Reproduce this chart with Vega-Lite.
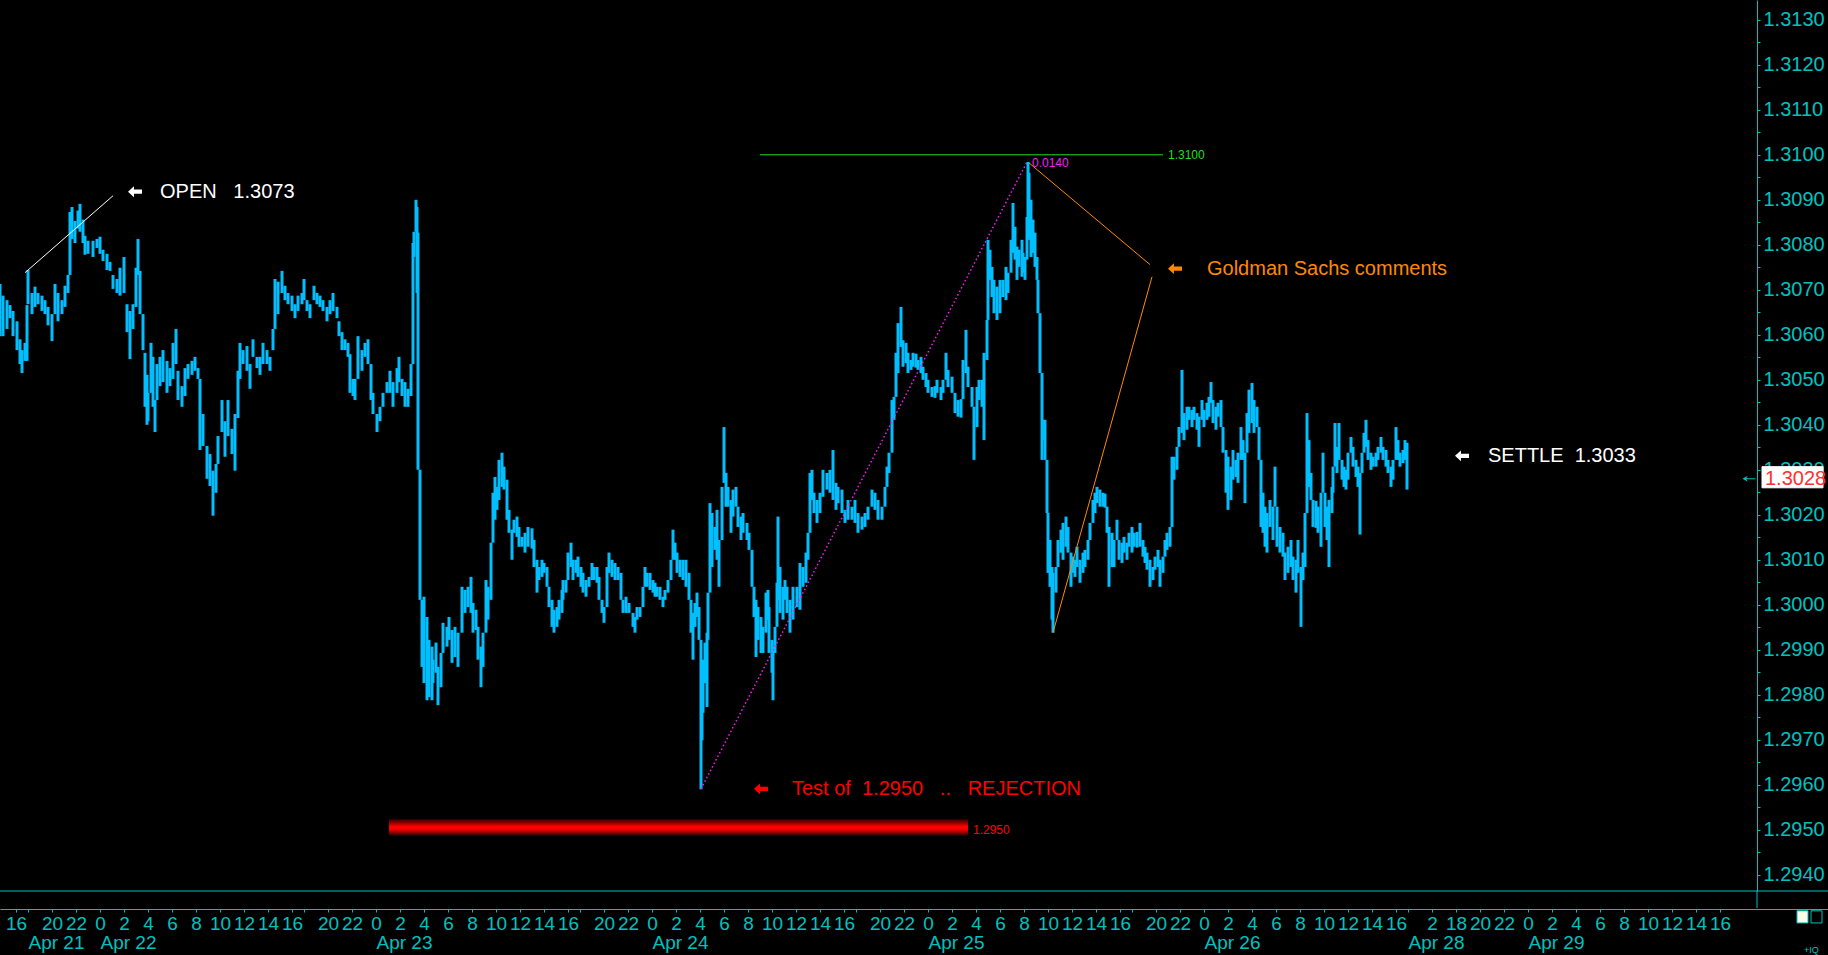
{
"$schema": "https://vega.github.io/schema/vega-lite/v6.json",
"width": 1828, "height": 891,
"autosize": {"type": "none"},
"padding": {"left": 0, "top": 0, "right": 0, "bottom": 64},
"background": "#000000",
"config": {
 "view": {"stroke": null},
 "axis": {"grid": false, "labelFont": "Liberation Sans", "labelColor": "#00c0c0", "domainColor": "#00c0c0", "tickColor": "#00c0c0", "labelOverlap": false, "labelFlush": false, "labelBound": false},
 "text": {"font": "Liberation Sans"}
},
"datasets": {
"bars": [
{"t":-140,"hi":1.30713,"lo":1.30597},{"t":-125,"hi":1.30687,"lo":1.30597},{"t":-105,"hi":1.30677,"lo":1.30613},{"t":-90,"hi":1.30666,"lo":1.30637},{"t":-75,"hi":1.30653,"lo":1.30597},{"t":-55,"hi":1.30630,"lo":1.30566},{"t":-40,"hi":1.30590,"lo":1.30535},{"t":-30,"hi":1.30566,"lo":1.30515},{"t":-15,"hi":1.30582,"lo":1.30542},{"t":-5,"hi":1.30666,"lo":1.30542},
{"t":0,"hi":1.30744,"lo":1.30668},{"t":20,"hi":1.30693,"lo":1.30646},{"t":35,"hi":1.30707,"lo":1.30662},{"t":50,"hi":1.30693,"lo":1.30668},{"t":70,"hi":1.30687,"lo":1.30653},{"t":85,"hi":1.30677,"lo":1.30646},{"t":100,"hi":1.30662,"lo":1.30621},{"t":120,"hi":1.30646,"lo":1.30586},{"t":135,"hi":1.30713,"lo":1.30646},{"t":150,"hi":1.30693,"lo":1.30630},
{"t":170,"hi":1.30677,"lo":1.30646},{"t":185,"hi":1.30709,"lo":1.30662},{"t":200,"hi":1.30733,"lo":1.30693},{"t":210,"hi":1.30873,"lo":1.30733},{"t":220,"hi":1.30884,"lo":1.30813},{"t":235,"hi":1.30853,"lo":1.30804},{"t":250,"hi":1.30876,"lo":1.30836},{"t":260,"hi":1.30891,"lo":1.30829},{"t":275,"hi":1.30856,"lo":1.30804},{"t":285,"hi":1.30820,"lo":1.30778},
{"t":300,"hi":1.30809,"lo":1.30780},{"t":325,"hi":1.30809,"lo":1.30773},{"t":345,"hi":1.30813,"lo":1.30793},{"t":360,"hi":1.30818,"lo":1.30780},{"t":375,"hi":1.30789,"lo":1.30764},{"t":395,"hi":1.30780,"lo":1.30744},{"t":410,"hi":1.30762,"lo":1.30742},{"t":425,"hi":1.30733,"lo":1.30702},{"t":445,"hi":1.30724,"lo":1.30693},{"t":460,"hi":1.30749,"lo":1.30687},
{"t":480,"hi":1.30773,"lo":1.30693},{"t":495,"hi":1.30668,"lo":1.30606},{"t":510,"hi":1.30653,"lo":1.30546},{"t":525,"hi":1.30668,"lo":1.30613},{"t":540,"hi":1.30749,"lo":1.30662},{"t":550,"hi":1.30813,"lo":1.30733},{"t":560,"hi":1.30742,"lo":1.30646},{"t":575,"hi":1.30646,"lo":1.30566},{"t":585,"hi":1.30560,"lo":1.30440},{"t":595,"hi":1.30511,"lo":1.30400},
{"t":600,"hi":1.30471,"lo":1.30408},{"t":615,"hi":1.30582,"lo":1.30471},{"t":625,"hi":1.30551,"lo":1.30440},{"t":635,"hi":1.30455,"lo":1.30384},{"t":645,"hi":1.30535,"lo":1.30455},{"t":660,"hi":1.30551,"lo":1.30486},{"t":675,"hi":1.30566,"lo":1.30495},{"t":695,"hi":1.30542,"lo":1.30471},{"t":710,"hi":1.30526,"lo":1.30486},{"t":725,"hi":1.30582,"lo":1.30502},
{"t":740,"hi":1.30613,"lo":1.30535},{"t":750,"hi":1.30520,"lo":1.30455},{"t":770,"hi":1.30486,"lo":1.30440},{"t":785,"hi":1.30526,"lo":1.30464},{"t":800,"hi":1.30535,"lo":1.30502},{"t":820,"hi":1.30542,"lo":1.30511},{"t":835,"hi":1.30551,"lo":1.30520},{"t":850,"hi":1.30526,"lo":1.30502},{"t":860,"hi":1.30502,"lo":1.30344},{"t":875,"hi":1.30424,"lo":1.30353},
{"t":895,"hi":1.30353,"lo":1.30280},{"t":910,"hi":1.30335,"lo":1.30264},{"t":925,"hi":1.30298,"lo":1.30198},{"t":940,"hi":1.30313,"lo":1.30249},{"t":950,"hi":1.30375,"lo":1.30313},{"t":970,"hi":1.30455,"lo":1.30384},{"t":985,"hi":1.30408,"lo":1.30329},{"t":1000,"hi":1.30455,"lo":1.30375},{"t":1020,"hi":1.30391,"lo":1.30335},{"t":1035,"hi":1.30424,"lo":1.30298},
{"t":1050,"hi":1.30520,"lo":1.30415},{"t":1060,"hi":1.30582,"lo":1.30502},{"t":1075,"hi":1.30566,"lo":1.30535},{"t":1095,"hi":1.30575,"lo":1.30520},{"t":1110,"hi":1.30535,"lo":1.30480},{"t":1125,"hi":1.30590,"lo":1.30551},{"t":1145,"hi":1.30551,"lo":1.30526},{"t":1160,"hi":1.30551,"lo":1.30511},{"t":1175,"hi":1.30582,"lo":1.30535},{"t":1195,"hi":1.30566,"lo":1.30535},
{"t":1210,"hi":1.30551,"lo":1.30520},{"t":1225,"hi":1.30613,"lo":1.30566},{"t":1235,"hi":1.30724,"lo":1.30613},{"t":1250,"hi":1.30718,"lo":1.30646},{"t":1270,"hi":1.30742,"lo":1.30693},{"t":1285,"hi":1.30709,"lo":1.30677},{"t":1300,"hi":1.30693,"lo":1.30668},{"t":1320,"hi":1.30687,"lo":1.30653},{"t":1335,"hi":1.30668,"lo":1.30637},{"t":1350,"hi":1.30687,"lo":1.30653},
{"t":1370,"hi":1.30693,"lo":1.30668},{"t":1380,"hi":1.30724,"lo":1.30677},{"t":1395,"hi":1.30677,"lo":1.30653},{"t":1410,"hi":1.30668,"lo":1.30637},{"t":1430,"hi":1.30709,"lo":1.30677},{"t":1445,"hi":1.30693,"lo":1.30668},{"t":1460,"hi":1.30687,"lo":1.30662},{"t":1475,"hi":1.30677,"lo":1.30653},{"t":1495,"hi":1.30662,"lo":1.30630},{"t":1510,"hi":1.30677,"lo":1.30646},
{"t":1525,"hi":1.30693,"lo":1.30653},{"t":1545,"hi":1.30662,"lo":1.30637},{"t":1555,"hi":1.30630,"lo":1.30597},{"t":1570,"hi":1.30606,"lo":1.30566},{"t":1585,"hi":1.30590,"lo":1.30566},{"t":1600,"hi":1.30582,"lo":1.30551},{"t":1610,"hi":1.30557,"lo":1.30471},{"t":1625,"hi":1.30502,"lo":1.30464},{"t":1635,"hi":1.30502,"lo":1.30455},{"t":1650,"hi":1.30597,"lo":1.30502},
{"t":1670,"hi":1.30566,"lo":1.30520},{"t":1685,"hi":1.30582,"lo":1.30551},{"t":1700,"hi":1.30590,"lo":1.30535},{"t":1715,"hi":1.30535,"lo":1.30455},{"t":1725,"hi":1.30471,"lo":1.30424},{"t":1745,"hi":1.30424,"lo":1.30384},{"t":1760,"hi":1.30440,"lo":1.30408},{"t":1775,"hi":1.30471,"lo":1.30440},{"t":1795,"hi":1.30495,"lo":1.30471},{"t":1810,"hi":1.30520,"lo":1.30471},
{"t":1825,"hi":1.30495,"lo":1.30440},{"t":1845,"hi":1.30526,"lo":1.30471},{"t":1855,"hi":1.30551,"lo":1.30495},{"t":1870,"hi":1.30502,"lo":1.30464},{"t":1885,"hi":1.30495,"lo":1.30440},{"t":1900,"hi":1.30480,"lo":1.30440},{"t":1915,"hi":1.30535,"lo":1.30464},{"t":1925,"hi":1.30804,"lo":1.30535},{"t":1930,"hi":1.30829,"lo":1.30773},{"t":1940,"hi":1.30900,"lo":1.30829},
{"t":1945,"hi":1.30884,"lo":1.30693},{"t":1950,"hi":1.30827,"lo":1.30300},{"t":1960,"hi":1.30300,"lo":1.30011},{"t":1970,"hi":1.30011,"lo":1.29862},{"t":1980,"hi":1.30018,"lo":1.29826},{"t":1995,"hi":1.29973,"lo":1.29788},{"t":2005,"hi":1.29922,"lo":1.29795},{"t":2020,"hi":1.29907,"lo":1.29788},{"t":2025,"hi":1.29878,"lo":1.29826},{"t":2040,"hi":1.29916,"lo":1.29849},
{"t":2050,"hi":1.29862,"lo":1.29777},{"t":2065,"hi":1.29893,"lo":1.29817},{"t":2075,"hi":1.29960,"lo":1.29893},{"t":2095,"hi":1.29951,"lo":1.29907},{"t":2105,"hi":1.29973,"lo":1.29922},{"t":2120,"hi":1.29944,"lo":1.29871},{"t":2135,"hi":1.29951,"lo":1.29884},{"t":2150,"hi":1.29938,"lo":1.29862},{"t":2170,"hi":1.30040,"lo":1.29938},{"t":2185,"hi":1.30033,"lo":1.29982},
{"t":2200,"hi":1.30040,"lo":1.29995},{"t":2215,"hi":1.30062,"lo":1.29982},{"t":2225,"hi":1.30004,"lo":1.29938},{"t":2240,"hi":1.29989,"lo":1.29944},{"t":2250,"hi":1.29951,"lo":1.29878},{"t":2265,"hi":1.29907,"lo":1.29817},{"t":2275,"hi":1.29938,"lo":1.29862},{"t":2290,"hi":1.30055,"lo":1.29938},{"t":2300,"hi":1.30040,"lo":1.29967},{"t":2315,"hi":1.30138,"lo":1.30011},
{"t":2325,"hi":1.30249,"lo":1.30138},{"t":2335,"hi":1.30284,"lo":1.30189},{"t":2345,"hi":1.30262,"lo":1.30211},{"t":2355,"hi":1.30322,"lo":1.30233},{"t":2370,"hi":1.30338,"lo":1.30262},{"t":2380,"hi":1.30307,"lo":1.30256},{"t":2395,"hi":1.30278,"lo":1.30189},{"t":2405,"hi":1.30211,"lo":1.30160},{"t":2420,"hi":1.30167,"lo":1.30100},{"t":2430,"hi":1.30189,"lo":1.30160},
{"t":2445,"hi":1.30196,"lo":1.30151},{"t":2455,"hi":1.30173,"lo":1.30129},{"t":2470,"hi":1.30151,"lo":1.30129},{"t":2485,"hi":1.30160,"lo":1.30116},{"t":2500,"hi":1.30173,"lo":1.30129},{"t":2520,"hi":1.30170,"lo":1.30125},{"t":2530,"hi":1.30144,"lo":1.30084},{"t":2545,"hi":1.30100,"lo":1.30027},{"t":2555,"hi":1.30084,"lo":1.30055},{"t":2570,"hi":1.30100,"lo":1.30062},
{"t":2580,"hi":1.30093,"lo":1.30071},{"t":2595,"hi":1.30084,"lo":1.30040},{"t":2605,"hi":1.30040,"lo":1.29995},{"t":2620,"hi":1.30011,"lo":1.29951},{"t":2630,"hi":1.29989,"lo":1.29938},{"t":2645,"hi":1.29995,"lo":1.29951},{"t":2655,"hi":1.30011,"lo":1.29967},{"t":2670,"hi":1.30033,"lo":1.29982},{"t":2675,"hi":1.30055,"lo":1.30011},{"t":2690,"hi":1.30055,"lo":1.30027},
{"t":2700,"hi":1.30116,"lo":1.30055},{"t":2715,"hi":1.30138,"lo":1.30084},{"t":2725,"hi":1.30100,"lo":1.30055},{"t":2740,"hi":1.30100,"lo":1.30071},{"t":2750,"hi":1.30107,"lo":1.30062},{"t":2765,"hi":1.30084,"lo":1.30040},{"t":2775,"hi":1.30071,"lo":1.30027},{"t":2790,"hi":1.30055,"lo":1.30018},{"t":2805,"hi":1.30062,"lo":1.30040},{"t":2820,"hi":1.30093,"lo":1.30055},
{"t":2830,"hi":1.30084,"lo":1.30055},{"t":2845,"hi":1.30084,"lo":1.30049},{"t":2855,"hi":1.30062,"lo":1.30011},{"t":2870,"hi":1.30011,"lo":1.29982},{"t":2880,"hi":1.29995,"lo":1.29960},{"t":2895,"hi":1.30084,"lo":1.29995},{"t":2905,"hi":1.30116,"lo":1.30071},{"t":2920,"hi":1.30100,"lo":1.30062},{"t":2935,"hi":1.30093,"lo":1.30055},{"t":2950,"hi":1.30084,"lo":1.30055},
{"t":2965,"hi":1.30071,"lo":1.30011},{"t":2975,"hi":1.30011,"lo":1.29982},{"t":2990,"hi":1.30018,"lo":1.29982},{"t":3005,"hi":1.30004,"lo":1.29982},{"t":3025,"hi":1.29982,"lo":1.29951},{"t":3035,"hi":1.29973,"lo":1.29938},{"t":3045,"hi":1.29995,"lo":1.29967},{"t":3060,"hi":1.29995,"lo":1.29973},{"t":3075,"hi":1.30040,"lo":1.29995},{"t":3085,"hi":1.30084,"lo":1.30040},
{"t":3095,"hi":1.30071,"lo":1.30040},{"t":3110,"hi":1.30071,"lo":1.30033},{"t":3125,"hi":1.30055,"lo":1.30027},{"t":3135,"hi":1.30049,"lo":1.30018},{"t":3145,"hi":1.30040,"lo":1.30018},{"t":3160,"hi":1.30040,"lo":1.30011},{"t":3175,"hi":1.30018,"lo":1.29995},{"t":3185,"hi":1.30033,"lo":1.30011},{"t":3200,"hi":1.30055,"lo":1.30027},{"t":3215,"hi":1.30100,"lo":1.30055},
{"t":3225,"hi":1.30167,"lo":1.30100},{"t":3235,"hi":1.30138,"lo":1.30100},{"t":3245,"hi":1.30116,"lo":1.30071},{"t":3260,"hi":1.30100,"lo":1.30062},{"t":3275,"hi":1.30100,"lo":1.30055},{"t":3290,"hi":1.30100,"lo":1.30040},{"t":3305,"hi":1.30071,"lo":1.30011},{"t":3315,"hi":1.30011,"lo":1.29938},{"t":3325,"hi":1.29982,"lo":1.29878},{"t":3335,"hi":1.30004,"lo":1.29951},
{"t":3345,"hi":1.30027,"lo":1.29973},{"t":3355,"hi":1.29995,"lo":1.29922},{"t":3365,"hi":1.29922,"lo":1.29590},{"t":3370,"hi":1.29788,"lo":1.29699},{"t":3375,"hi":1.29878,"lo":1.29760},{"t":3385,"hi":1.29916,"lo":1.29826},{"t":3395,"hi":1.29938,"lo":1.29773},{"t":3400,"hi":1.30027,"lo":1.29922},{"t":3410,"hi":1.30226,"lo":1.30027},{"t":3420,"hi":1.30204,"lo":1.30084},
{"t":3435,"hi":1.30173,"lo":1.30122},{"t":3445,"hi":1.30211,"lo":1.30100},{"t":3455,"hi":1.30144,"lo":1.30040},{"t":3470,"hi":1.30262,"lo":1.30144},{"t":3480,"hi":1.30395,"lo":1.30271},{"t":3490,"hi":1.30293,"lo":1.30218},{"t":3500,"hi":1.30262,"lo":1.30218},{"t":3515,"hi":1.30233,"lo":1.30160},{"t":3525,"hi":1.30256,"lo":1.30196},{"t":3540,"hi":1.30262,"lo":1.30218},
{"t":3550,"hi":1.30218,"lo":1.30173},{"t":3565,"hi":1.30196,"lo":1.30144},{"t":3575,"hi":1.30204,"lo":1.30160},{"t":3595,"hi":1.30182,"lo":1.30144},{"t":3605,"hi":1.30160,"lo":1.30122},{"t":3620,"hi":1.30122,"lo":1.30040},{"t":3630,"hi":1.30040,"lo":1.29973},{"t":3640,"hi":1.30011,"lo":1.29884},{"t":3650,"hi":1.29995,"lo":1.29922},{"t":3665,"hi":1.29973,"lo":1.29893},
{"t":3675,"hi":1.29951,"lo":1.29893},{"t":3690,"hi":1.30027,"lo":1.29938},{"t":3700,"hi":1.30033,"lo":1.29967},{"t":3705,"hi":1.29995,"lo":1.29893},{"t":3720,"hi":1.29922,"lo":1.29849},{"t":3725,"hi":1.29907,"lo":1.29788},{"t":3735,"hi":1.29951,"lo":1.29893},{"t":3745,"hi":1.30049,"lo":1.29951},{"t":3750,"hi":1.30196,"lo":1.30011},{"t":3760,"hi":1.30084,"lo":1.29982},
{"t":3775,"hi":1.30040,"lo":1.29967},{"t":3785,"hi":1.30055,"lo":1.30011},{"t":3795,"hi":1.30040,"lo":1.29982},{"t":3810,"hi":1.30011,"lo":1.29938},{"t":3825,"hi":1.30040,"lo":1.29967},{"t":3845,"hi":1.30040,"lo":1.29995},{"t":3860,"hi":1.30093,"lo":1.29989},{"t":3875,"hi":1.30084,"lo":1.30040},{"t":3890,"hi":1.30116,"lo":1.30049},{"t":3900,"hi":1.30160,"lo":1.30100},
{"t":3910,"hi":1.30293,"lo":1.30160},{"t":3920,"hi":1.30300,"lo":1.30233},{"t":3930,"hi":1.30249,"lo":1.30204},{"t":3945,"hi":1.30233,"lo":1.30182},{"t":3960,"hi":1.30249,"lo":1.30204},{"t":3975,"hi":1.30300,"lo":1.30240},{"t":3995,"hi":1.30293,"lo":1.30256},{"t":4010,"hi":1.30300,"lo":1.30249},{"t":4025,"hi":1.30344,"lo":1.30233},{"t":4040,"hi":1.30271,"lo":1.30211},
{"t":4050,"hi":1.30262,"lo":1.30226},{"t":4070,"hi":1.30256,"lo":1.30204},{"t":4085,"hi":1.30211,"lo":1.30182},{"t":4100,"hi":1.30233,"lo":1.30189},{"t":4120,"hi":1.30218,"lo":1.30189},{"t":4135,"hi":1.30233,"lo":1.30182},{"t":4150,"hi":1.30204,"lo":1.30160},{"t":4170,"hi":1.30196,"lo":1.30167},{"t":4185,"hi":1.30204,"lo":1.30173},{"t":4200,"hi":1.30218,"lo":1.30189},
{"t":4220,"hi":1.30256,"lo":1.30218},{"t":4235,"hi":1.30249,"lo":1.30211},{"t":4250,"hi":1.30233,"lo":1.30189},{"t":4270,"hi":1.30218,"lo":1.30189},{"t":4285,"hi":1.30262,"lo":1.30218},{"t":4295,"hi":1.30307,"lo":1.30262},{"t":4305,"hi":1.30338,"lo":1.30293},{"t":4320,"hi":1.30455,"lo":1.30338},{"t":4330,"hi":1.30462,"lo":1.30411},{"t":4340,"hi":1.30560,"lo":1.30462},
{"t":4350,"hi":1.30626,"lo":1.30515},{"t":4365,"hi":1.30662,"lo":1.30573},{"t":4375,"hi":1.30588,"lo":1.30529},{"t":4390,"hi":1.30582,"lo":1.30537},{"t":4400,"hi":1.30560,"lo":1.30515},{"t":4415,"hi":1.30544,"lo":1.30522},{"t":4425,"hi":1.30560,"lo":1.30529},{"t":4440,"hi":1.30558,"lo":1.30527},{"t":4450,"hi":1.30544,"lo":1.30522},{"t":4465,"hi":1.30551,"lo":1.30515},
{"t":4475,"hi":1.30529,"lo":1.30500},{"t":4490,"hi":1.30515,"lo":1.30484},{"t":4500,"hi":1.30500,"lo":1.30471},{"t":4520,"hi":1.30484,"lo":1.30462},{"t":4535,"hi":1.30486,"lo":1.30460},{"t":4545,"hi":1.30500,"lo":1.30471},{"t":4565,"hi":1.30484,"lo":1.30455},{"t":4575,"hi":1.30500,"lo":1.30471},{"t":4590,"hi":1.30560,"lo":1.30500},{"t":4600,"hi":1.30522,"lo":1.30484},
{"t":4620,"hi":1.30507,"lo":1.30471},{"t":4635,"hi":1.30471,"lo":1.30426},{"t":4650,"hi":1.30455,"lo":1.30418},{"t":4665,"hi":1.30457,"lo":1.30416},{"t":4675,"hi":1.30544,"lo":1.30457},{"t":4690,"hi":1.30611,"lo":1.30515},{"t":4700,"hi":1.30529,"lo":1.30484},{"t":4720,"hi":1.30484,"lo":1.30440},{"t":4730,"hi":1.30440,"lo":1.30322},{"t":4745,"hi":1.30484,"lo":1.30395},
{"t":4755,"hi":1.30500,"lo":1.30455},{"t":4770,"hi":1.30500,"lo":1.30440},{"t":4780,"hi":1.30560,"lo":1.30366},{"t":4795,"hi":1.30633,"lo":1.30544},{"t":4800,"hi":1.30811,"lo":1.30633},{"t":4810,"hi":1.30789,"lo":1.30722},{"t":4820,"hi":1.30751,"lo":1.30684},{"t":4830,"hi":1.30722,"lo":1.30648},{"t":4845,"hi":1.30707,"lo":1.30633},{"t":4860,"hi":1.30722,"lo":1.30648},
{"t":4875,"hi":1.30722,"lo":1.30684},{"t":4890,"hi":1.30751,"lo":1.30677},{"t":4900,"hi":1.30738,"lo":1.30693},{"t":4915,"hi":1.30811,"lo":1.30738},{"t":4925,"hi":1.30893,"lo":1.30782},{"t":4935,"hi":1.30840,"lo":1.30767},{"t":4945,"hi":1.30796,"lo":1.30722},{"t":4955,"hi":1.30789,"lo":1.30751},{"t":4970,"hi":1.30811,"lo":1.30729},{"t":4975,"hi":1.30782,"lo":1.30738},
{"t":4985,"hi":1.30773,"lo":1.30722},{"t":4995,"hi":1.30862,"lo":1.30767},{"t":5000,"hi":1.30984,"lo":1.30862},{"t":5005,"hi":1.30960,"lo":1.30811},{"t":5015,"hi":1.30900,"lo":1.30773},{"t":5025,"hi":1.30856,"lo":1.30782},{"t":5035,"hi":1.30827,"lo":1.30751},{"t":5045,"hi":1.30773,"lo":1.30722},{"t":5050,"hi":1.30722,"lo":1.30648},{"t":5060,"hi":1.30648,"lo":1.30515},
{"t":5070,"hi":1.30515,"lo":1.30322},{"t":5075,"hi":1.30411,"lo":1.30366},{"t":5085,"hi":1.30411,"lo":1.30322},{"t":5095,"hi":1.30322,"lo":1.30204},{"t":5100,"hi":1.30204,"lo":1.30071},{"t":5110,"hi":1.30144,"lo":1.30040},{"t":5120,"hi":1.30084,"lo":1.29967},{"t":5125,"hi":1.30071,"lo":1.29938},{"t":5140,"hi":1.30084,"lo":1.30027},{"t":5150,"hi":1.30144,"lo":1.30084},
{"t":5165,"hi":1.30167,"lo":1.30116},{"t":5175,"hi":1.30182,"lo":1.30100},{"t":5190,"hi":1.30196,"lo":1.30129},{"t":5200,"hi":1.30173,"lo":1.30116},{"t":5215,"hi":1.30116,"lo":1.30040},{"t":5225,"hi":1.30107,"lo":1.30071},{"t":5235,"hi":1.30100,"lo":1.30062},{"t":5245,"hi":1.30129,"lo":1.30084},{"t":5260,"hi":1.30100,"lo":1.30049},{"t":5275,"hi":1.30116,"lo":1.30071},
{"t":5285,"hi":1.30122,"lo":1.30084},{"t":5300,"hi":1.30144,"lo":1.30100},{"t":5310,"hi":1.30182,"lo":1.30144},{"t":5325,"hi":1.30233,"lo":1.30182},{"t":5335,"hi":1.30249,"lo":1.30204},{"t":5345,"hi":1.30262,"lo":1.30226},{"t":5360,"hi":1.30256,"lo":1.30218},{"t":5375,"hi":1.30249,"lo":1.30218},{"t":5385,"hi":1.30247,"lo":1.30216},{"t":5395,"hi":1.30218,"lo":1.30160},
{"t":5405,"hi":1.30173,"lo":1.30040},{"t":5420,"hi":1.30160,"lo":1.30084},{"t":5430,"hi":1.30144,"lo":1.30084},{"t":5445,"hi":1.30189,"lo":1.30144},{"t":5455,"hi":1.30144,"lo":1.30100},{"t":5470,"hi":1.30138,"lo":1.30093},{"t":5480,"hi":1.30151,"lo":1.30116},{"t":5495,"hi":1.30138,"lo":1.30100},{"t":5505,"hi":1.30160,"lo":1.30129},{"t":5520,"hi":1.30173,"lo":1.30116},
{"t":5530,"hi":1.30160,"lo":1.30129},{"t":5545,"hi":1.30162,"lo":1.30127},{"t":5560,"hi":1.30182,"lo":1.30129},{"t":5575,"hi":1.30144,"lo":1.30107},{"t":5585,"hi":1.30129,"lo":1.30093},{"t":5595,"hi":1.30116,"lo":1.30078},{"t":5610,"hi":1.30100,"lo":1.30040},{"t":5625,"hi":1.30084,"lo":1.30055},{"t":5635,"hi":1.30107,"lo":1.30078},{"t":5650,"hi":1.30122,"lo":1.30084},
{"t":5660,"hi":1.30100,"lo":1.30040},{"t":5675,"hi":1.30107,"lo":1.30071},{"t":5685,"hi":1.30144,"lo":1.30107},{"t":5695,"hi":1.30160,"lo":1.30122},{"t":5710,"hi":1.30173,"lo":1.30129},{"t":5720,"hi":1.30329,"lo":1.30173},{"t":5730,"hi":1.30329,"lo":1.30278},{"t":5745,"hi":1.30351,"lo":1.30300},{"t":5755,"hi":1.30395,"lo":1.30351},{"t":5770,"hi":1.30522,"lo":1.30382},
{"t":5780,"hi":1.30426,"lo":1.30366},{"t":5795,"hi":1.30440,"lo":1.30389},{"t":5805,"hi":1.30440,"lo":1.30411},{"t":5820,"hi":1.30433,"lo":1.30395},{"t":5830,"hi":1.30440,"lo":1.30411},{"t":5845,"hi":1.30426,"lo":1.30389},{"t":5855,"hi":1.30418,"lo":1.30351},{"t":5870,"hi":1.30455,"lo":1.30411},{"t":5880,"hi":1.30433,"lo":1.30395},{"t":5895,"hi":1.30449,"lo":1.30411},
{"t":5905,"hi":1.30462,"lo":1.30418},{"t":5915,"hi":1.30495,"lo":1.30449},{"t":5925,"hi":1.30455,"lo":1.30404},{"t":5940,"hi":1.30440,"lo":1.30389},{"t":5950,"hi":1.30449,"lo":1.30418},{"t":5965,"hi":1.30455,"lo":1.30395},{"t":5975,"hi":1.30395,"lo":1.30338},{"t":5990,"hi":1.30344,"lo":1.30249},{"t":6000,"hi":1.30329,"lo":1.30211},{"t":6015,"hi":1.30307,"lo":1.30233},
{"t":6025,"hi":1.30344,"lo":1.30278},{"t":6040,"hi":1.30322,"lo":1.30284},{"t":6050,"hi":1.30338,"lo":1.30271},{"t":6065,"hi":1.30395,"lo":1.30322},{"t":6075,"hi":1.30366,"lo":1.30322},{"t":6085,"hi":1.30338,"lo":1.30226},{"t":6095,"hi":1.30426,"lo":1.30338},{"t":6105,"hi":1.30478,"lo":1.30382},{"t":6120,"hi":1.30493,"lo":1.30404},{"t":6130,"hi":1.30455,"lo":1.30382},
{"t":6145,"hi":1.30440,"lo":1.30395},{"t":6155,"hi":1.30395,"lo":1.30322},{"t":6165,"hi":1.30322,"lo":1.30173},{"t":6175,"hi":1.30249,"lo":1.30160},{"t":6185,"hi":1.30218,"lo":1.30129},{"t":6195,"hi":1.30204,"lo":1.30116},{"t":6210,"hi":1.30233,"lo":1.30173},{"t":6225,"hi":1.30218,"lo":1.30144},{"t":6235,"hi":1.30307,"lo":1.30218},{"t":6245,"hi":1.30218,"lo":1.30129},
{"t":6260,"hi":1.30173,"lo":1.30116},{"t":6275,"hi":1.30160,"lo":1.30107},{"t":6285,"hi":1.30116,"lo":1.30055},{"t":6300,"hi":1.30129,"lo":1.30071},{"t":6315,"hi":1.30144,"lo":1.30084},{"t":6325,"hi":1.30107,"lo":1.30055},{"t":6340,"hi":1.30100,"lo":1.30027},{"t":6350,"hi":1.30144,"lo":1.30071},{"t":6365,"hi":1.30084,"lo":1.29951},{"t":6375,"hi":1.30116,"lo":1.30055},
{"t":6385,"hi":1.30204,"lo":1.30084},{"t":6395,"hi":1.30426,"lo":1.30204},{"t":6405,"hi":1.30366,"lo":1.30262},{"t":6415,"hi":1.30293,"lo":1.30233},{"t":6425,"hi":1.30233,"lo":1.30173},{"t":6440,"hi":1.30231,"lo":1.30171},{"t":6450,"hi":1.30218,"lo":1.30160},{"t":6465,"hi":1.30249,"lo":1.30129},{"t":6475,"hi":1.30338,"lo":1.30249},{"t":6485,"hi":1.30249,"lo":1.30173},
{"t":6495,"hi":1.30218,"lo":1.30144},{"t":6505,"hi":1.30233,"lo":1.30084},{"t":6520,"hi":1.30262,"lo":1.30204},{"t":6525,"hi":1.30307,"lo":1.30249},{"t":6535,"hi":1.30404,"lo":1.30307},{"t":6545,"hi":1.30351,"lo":1.30293},{"t":6555,"hi":1.30404,"lo":1.30322},{"t":6570,"hi":1.30322,"lo":1.30278},{"t":6580,"hi":1.30307,"lo":1.30262},{"t":6590,"hi":1.30300,"lo":1.30256},
{"t":6600,"hi":1.30338,"lo":1.30278},{"t":6615,"hi":1.30373,"lo":1.30338},{"t":6625,"hi":1.30351,"lo":1.30307},{"t":6640,"hi":1.30322,"lo":1.30284},{"t":6650,"hi":1.30307,"lo":1.30262},{"t":6660,"hi":1.30293,"lo":1.30156},{"t":6670,"hi":1.30338,"lo":1.30293},{"t":6680,"hi":1.30382,"lo":1.30338},{"t":6690,"hi":1.30411,"lo":1.30351},{"t":6700,"hi":1.30366,"lo":1.30322},
{"t":6715,"hi":1.30338,"lo":1.30300},{"t":6725,"hi":1.30329,"lo":1.30307},{"t":6740,"hi":1.30338,"lo":1.30307},{"t":6750,"hi":1.30351,"lo":1.30322},{"t":6765,"hi":1.30373,"lo":1.30338},{"t":6775,"hi":1.30351,"lo":1.30322},{"t":6790,"hi":1.30344,"lo":1.30307},{"t":6800,"hi":1.30322,"lo":1.30293},{"t":6815,"hi":1.30307,"lo":1.30262},{"t":6825,"hi":1.30322,"lo":1.30278},
{"t":6840,"hi":1.30395,"lo":1.30322},{"t":6850,"hi":1.30366,"lo":1.30322},{"t":6860,"hi":1.30338,"lo":1.30307},{"t":6875,"hi":1.30344,"lo":1.30315},{"t":6885,"hi":1.30366,"lo":1.30322},{"t":6895,"hi":1.30360,"lo":1.30256}
],
"redbar": [{"t1":1805,"t2":4700,"p1":1.29524,"p2":1.29487}],
"lines": [
{"t1":-15,"p1":1.30738,"t2":425,"p2":1.30909,"c":"#ffffff"},
{"t1":3660,"p1":1.3100,"t2":5675,"p2":1.3100,"c":"#22dd22"},
{"t1":5005,"p1":1.30982,"t2":5610,"p2":1.30756,"c":"#ff8800"},
{"t1":5620,"p1":1.30729,"t2":5125,"p2":1.29938,"c":"#ff8800"}
],
"dotted": [{"t1":3365,"p1":1.29591,"t2":4995,"p2":1.30984}],
"boxes": [
{"t1":8670,"t2":8975,"p1":1.30307,"p2":1.30260,"f":"#ffffff","s":"#ffffff"},
{"t1":8845,"t2":8900,"p1":1.29320,"p2":1.29293,"f":"#ffffe8","s":"#00c0c0"},
{"t1":8915,"t2":8970,"p1":1.29320,"p2":1.29293,"f":"#000000","s":"#00c0c0"}
],
"notes": [
{"t":660,"p":1.30918,"txt":"OPEN\u00a0\u00a0\u00a01.3073","c":"#ffffff","s":20},
{"t":7300,"p":1.30331,"txt":"SETTLE\u00a0\u00a01.3033","c":"#ffffff","s":20},
{"t":5895,"p":1.30747,"txt":"Goldman Sachs comments","c":"#ff8800","s":20},
{"t":3820,"p":1.29591,"txt":"Test of\u00a0\u00a01.2950\u00a0\u00a0\u00a0..\u00a0\u00a0\u00a0REJECTION","c":"#ff0000","s":20},
{"t":5700,"p":1.3100,"txt":"1.3100","c":"#22dd22","s":12},
{"t":5020,"p":1.30982,"txt":"0.0140","c":"#f020f0","s":12},
{"t":4725,"p":1.2950,"txt":"1.2950","c":"#ff0000","s":12},
{"t":8685,"p":1.3028,"txt":"1.3028","c":"#ff3030","s":20},
{"t":8880,"p":1.29233,"txt":"+IQ","c":"#00c0c0","s":9}
],
"arrows": [
{"t":535,"p":1.30918,"c":"#ffffff"},
{"t":7170,"p":1.30331,"c":"#ffffff"},
{"t":5735,"p":1.30747,"c":"#ff8800"},
{"t":3665,"p":1.29591,"c":"#ff0000"}
],
"marker": [{"t":8605,"p":1.3028}]
},
"layer": [
{"data": {"name": "bars"},
 "mark": {"type": "rule", "color": "#00bfff", "strokeWidth": 3},
 "encoding": {
  "x": {"field": "t", "type": "quantitative", "title": null,
        "scale": {"domain": [-140, 9000], "nice": false, "zero": false},
        "axis": {"orient": "bottom", "offset": 18, "tickSize": 3, "labelPadding": 2, "labelFontSize": 19, "domainWidth": 1,
                 "values": [-60,0,120,240,360,480,600,720,840,960,1080,1200,1320,1380,1500,1620,1740,1860,1980,2100,2220,2340,2460,2580,2700,2760,2880,3000,3120,3240,3360,3480,3600,3720,3840,3960,4080,4140,4260,4380,4500,4620,4740,4860,4980,5100,5220,5340,5460,5520,5640,5760,5880,6000,6120,6240,6360,6480,6600,6720,6840,6900,7020,7140,7260,7380,7500,7620,7740,7860,7980,8100,8220,8340,8460],
                 "labelExpr": "datum.value >= 7140 ? '' + ((18 + (datum.value - 7140) / 60) % 24) : (datum.value >= 6900 ? (datum.value == 6900 ? '' : '' + ((datum.value - 6900) / 60)) : ((((datum.value % 1380) + 1380) % 1380) == 0 ? '' : '' + ((18 + (((datum.value % 1380) + 1380) % 1380) / 60) % 24)))"}},
  "y": {"field": "hi", "type": "quantitative", "title": null,
        "scale": {"domain": [1.29364, 1.31344], "nice": false, "zero": false},
        "axis": {"orient": "right", "offset": -71, "tickSize": 3, "labelPadding": 3, "labelFontSize": 20, "domainWidth": 1,
                 "values": [1.294,1.2945,1.295,1.2955,1.296,1.2965,1.297,1.2975,1.298,1.2985,1.299,1.2995,1.3,1.3005,1.301,1.3015,1.302,1.3025,1.303,1.3035,1.304,1.3045,1.305,1.3055,1.306,1.3065,1.307,1.3075,1.308,1.3085,1.309,1.3095,1.31,1.3105,1.311,1.3115,1.312,1.3125,1.313],
                 "labelExpr": "round(datum.value * 10000) % 10 == 0 ? format(datum.value, '.4f') : ''"}},
  "y2": {"field": "lo"}
 }},
{"data": {"name": "redbar"},
 "mark": {"type": "rect", "stroke": null, "fill": {"gradient": "linear", "x1": 0, "y1": 0, "x2": 0, "y2": 1, "stops": [{"offset": 0, "color": "#2a0000"}, {"offset": 0.3, "color": "#b00000"}, {"offset": 0.45, "color": "#ff0000"}, {"offset": 0.6, "color": "#ff0000"}, {"offset": 0.75, "color": "#b00000"}, {"offset": 1, "color": "#2a0000"}]}},
 "encoding": {
  "x": {"field": "t1", "type": "quantitative", "scale": {"domain": [-140, 9000], "nice": false, "zero": false}, "axis": null},
  "x2": {"field": "t2"},
  "y": {"field": "p1", "type": "quantitative", "scale": {"domain": [1.29364, 1.31344], "nice": false, "zero": false}, "axis": null},
  "y2": {"field": "p2"}
 }},
{"data": {"name": "lines"},
 "mark": {"type": "rule", "strokeWidth": 1},
 "encoding": {
  "x": {"field": "t1", "type": "quantitative", "scale": {"domain": [-140, 9000], "nice": false, "zero": false}, "axis": null},
  "x2": {"field": "t2"},
  "y": {"field": "p1", "type": "quantitative", "scale": {"domain": [1.29364, 1.31344], "nice": false, "zero": false}, "axis": null},
  "y2": {"field": "p2"},
  "color": {"field": "c", "type": "nominal", "scale": null}
 }},
{"data": {"name": "dotted"},
 "mark": {"type": "rule", "strokeWidth": 1.5, "color": "#f020f0", "strokeDash": [1.5, 2.5]},
 "encoding": {
  "x": {"field": "t1", "type": "quantitative", "scale": {"domain": [-140, 9000], "nice": false, "zero": false}, "axis": null},
  "x2": {"field": "t2"},
  "y": {"field": "p1", "type": "quantitative", "scale": {"domain": [1.29364, 1.31344], "nice": false, "zero": false}, "axis": null},
  "y2": {"field": "p2"}
 }},
{"data": {"name": "boxes"},
 "mark": {"type": "rect", "strokeWidth": 1},
 "encoding": {
  "x": {"field": "t1", "type": "quantitative", "scale": {"domain": [-140, 9000], "nice": false, "zero": false}, "axis": null},
  "x2": {"field": "t2"},
  "y": {"field": "p1", "type": "quantitative", "scale": {"domain": [1.29364, 1.31344], "nice": false, "zero": false}, "axis": null},
  "y2": {"field": "p2"},
  "fill": {"field": "f", "type": "nominal", "scale": null},
  "stroke": {"field": "s", "type": "nominal", "scale": null}
 }},
{"data": {"name": "notes"},
 "mark": {"type": "text", "align": "left", "baseline": "middle", "font": "Liberation Sans"},
 "encoding": {
  "x": {"field": "t", "type": "quantitative", "scale": {"domain": [-140, 9000], "nice": false, "zero": false}, "axis": null},
  "y": {"field": "p", "type": "quantitative", "scale": {"domain": [1.29364, 1.31344], "nice": false, "zero": false}, "axis": null},
  "text": {"field": "txt"},
  "color": {"field": "c", "type": "nominal", "scale": null},
  "size": {"field": "s", "type": "quantitative", "scale": null}
 }},
{"data": {"name": "arrows"},
 "mark": {"type": "point", "filled": true, "opacity": 1, "size": 196, "shape": "M-1,0L-0.15,-0.78L-0.15,-0.3L1,-0.3L1,0.3L-0.15,0.3L-0.15,0.78Z"},
 "encoding": {
  "x": {"field": "t", "type": "quantitative", "title": null, "scale": {"domain": [-140, 9000], "nice": false, "zero": false},
        "axis": {"orient": "bottom", "offset": 40, "domain": false, "ticks": false, "labelPadding": 2.5, "labelAlign": "left", "labelFontSize": 19,
                 "values": [0, 360, 1740, 3120, 4500, 5880, 6900, 7500],
                 "labelExpr": "datum.value == 0 ? 'Apr 21' : datum.value == 360 ? 'Apr 22' : datum.value == 1740 ? 'Apr 23' : datum.value == 3120 ? 'Apr 24' : datum.value == 4500 ? 'Apr 25' : datum.value == 5880 ? 'Apr 26' : datum.value == 6900 ? 'Apr 28' : 'Apr 29'"}},
  "y": {"field": "p", "type": "quantitative", "scale": {"domain": [1.29364, 1.31344], "nice": false, "zero": false}, "axis": null},
  "color": {"field": "c", "type": "nominal", "scale": null}
 }},
{"data": {"name": "marker"},
 "mark": {"type": "point", "filled": true, "opacity": 1, "size": 169, "color": "#00c0c0", "shape": "M-1,0L-0.2,-0.45L-0.45,0L-0.2,0.45Z M-0.45,-0.08L1,-0.08L1,0.08L-0.45,0.08Z"},
 "encoding": {
  "x": {"field": "t", "type": "quantitative", "scale": {"domain": [-140, 9000], "nice": false, "zero": false}, "axis": null},
  "y": {"field": "p", "type": "quantitative", "scale": {"domain": [1.29364, 1.31344], "nice": false, "zero": false}, "axis": null}
 }},
{"data": {"values": [{}]},
 "mark": {"type": "rule", "color": "#00c0c0", "strokeWidth": 1},
 "encoding": {
  "y": {"datum": 1.29364, "type": "quantitative", "scale": {"domain": [1.29364, 1.31344], "nice": false, "zero": false}, "axis": null}
 }},
{"data": {"values": [{}]},
 "mark": {"type": "rule", "color": "#00c0c0", "strokeWidth": 1},
 "encoding": {
  "x": {"datum": 8645, "type": "quantitative", "scale": {"domain": [-140, 9000], "nice": false, "zero": false}, "axis": null},
  "y": {"datum": 1.29364, "type": "quantitative", "scale": {"domain": [1.29364, 1.31344], "nice": false, "zero": false}, "axis": null},
  "y2": {"datum": 1.29326}
 }}
],
"resolve": {"axis": {"x": "independent", "y": "independent"}}
}
